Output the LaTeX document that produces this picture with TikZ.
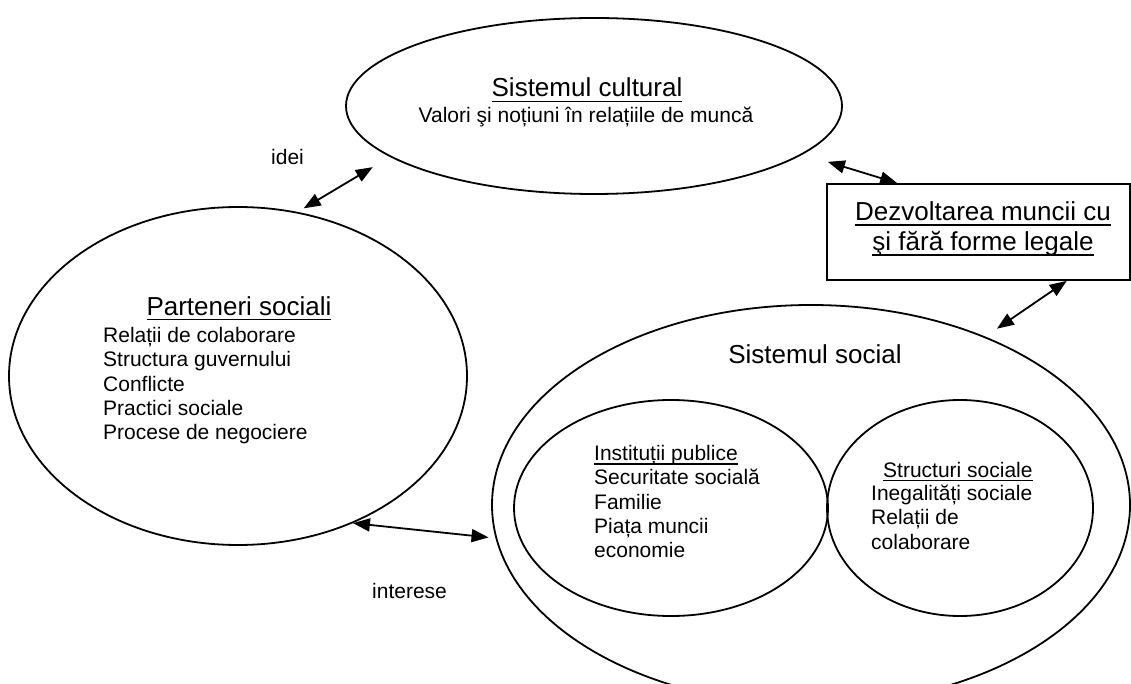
\documentclass[tikz,border=0pt]{standalone}
\usepackage{fontspec}
\setmainfont{Liberation Sans}
\usetikzlibrary{shapes.geometric,arrows.meta}
\newsavebox{\ulbox}
\newcommand{\uln}[1]{\sbox{\ulbox}{#1}\rlap{\rule[-0.2em]{\wd\ulbox}{0.065em}}\usebox{\ulbox}}
\tikzset{
  blob/.style={draw, ellipse, line width=1.8pt, inner sep=0pt},
  box/.style={draw, rectangle, line width=1.8pt, inner sep=0pt},
  bigtxt/.style={font=\fontsize{26}{30}\selectfont, inner sep=0pt, align=center},
  smalltxt/.style={font=\fontsize{21}{24.3}\selectfont, inner sep=0pt, align=left},
  link/.style={draw, line width=1.8pt, {Triangle[length=17pt,width=13pt]}-{Triangle[length=17pt,width=13pt]}},
}
\begin{document}
\begin{tikzpicture}[x=1pt,y=-1pt]
\useasboundingbox (0,0) rectangle (1131,684);

\node[blob, minimum width=496pt, minimum height=176pt] (cultural) at (594,106) {};
\node[blob, minimum width=458pt, minimum height=338pt] (partners) at (238,376) {};
\node[blob, minimum width=638pt, minimum height=400pt] (social) at (811,505) {};
\node[blob, minimum width=314pt, minimum height=216pt] (publice) at (671,508) {};
\node[blob, minimum width=266pt, minimum height=216pt] (structuri) at (960,508) {};
\node[box, minimum width=303pt, minimum height=96pt] (devel) at (978.5,232) {};

\node[bigtxt, anchor=base] (culturalT) at (587,97) {\uln{Sistemul cultural}};
\node[smalltxt, anchor=base] (culturalL) at (586,123) {Valori şi noțiuni în relațiile de muncă};
\node[bigtxt, anchor=base] (partnersT) at (239,315) {\uln{Parteneri sociali}};
\node[smalltxt, anchor=north west] (partnersL) at (103,327) {Relații de colaborare\\Structura guvernului\\Conflicte\\Practici sociale\\Procese de negociere};
\node[bigtxt, anchor=base] (socialT) at (815,363) {Sistemul social};
\node[smalltxt, anchor=north west] (publiceL) at (594,445) {\uln{Instituții publice}\\Securitate socială\\Familie\\Piața muncii\\economie};
\node[smalltxt, anchor=base west] (structuriT) at (883,477) {\uln{Structuri sociale}};
\node[smalltxt, anchor=north west] (structuriL) at (871,485) {Inegalități sociale\\Relații de\\colaborare};
\node[bigtxt, anchor=north] (develT) at (983,201.4) {\uln{Dezvoltarea muncii cu}\\\uln{şi fără forme legale}};
\node[smalltxt, anchor=base west] (idei) at (271,165) {idei};
\node[smalltxt, anchor=base west] (interese) at (372,598) {interese};

\path (partners.70) edge[link, shorten <=7pt, shorten >=20pt] (cultural.194);
\path (cultural.347) edge[link, shorten <=26pt] (devel.149.2);
\path (devel.331.5) edge[link, shorten >=14pt] (social.44);
\path (partners.308) edge[link, shorten >=7pt] (social.186.75);
\end{tikzpicture}
\end{document}
